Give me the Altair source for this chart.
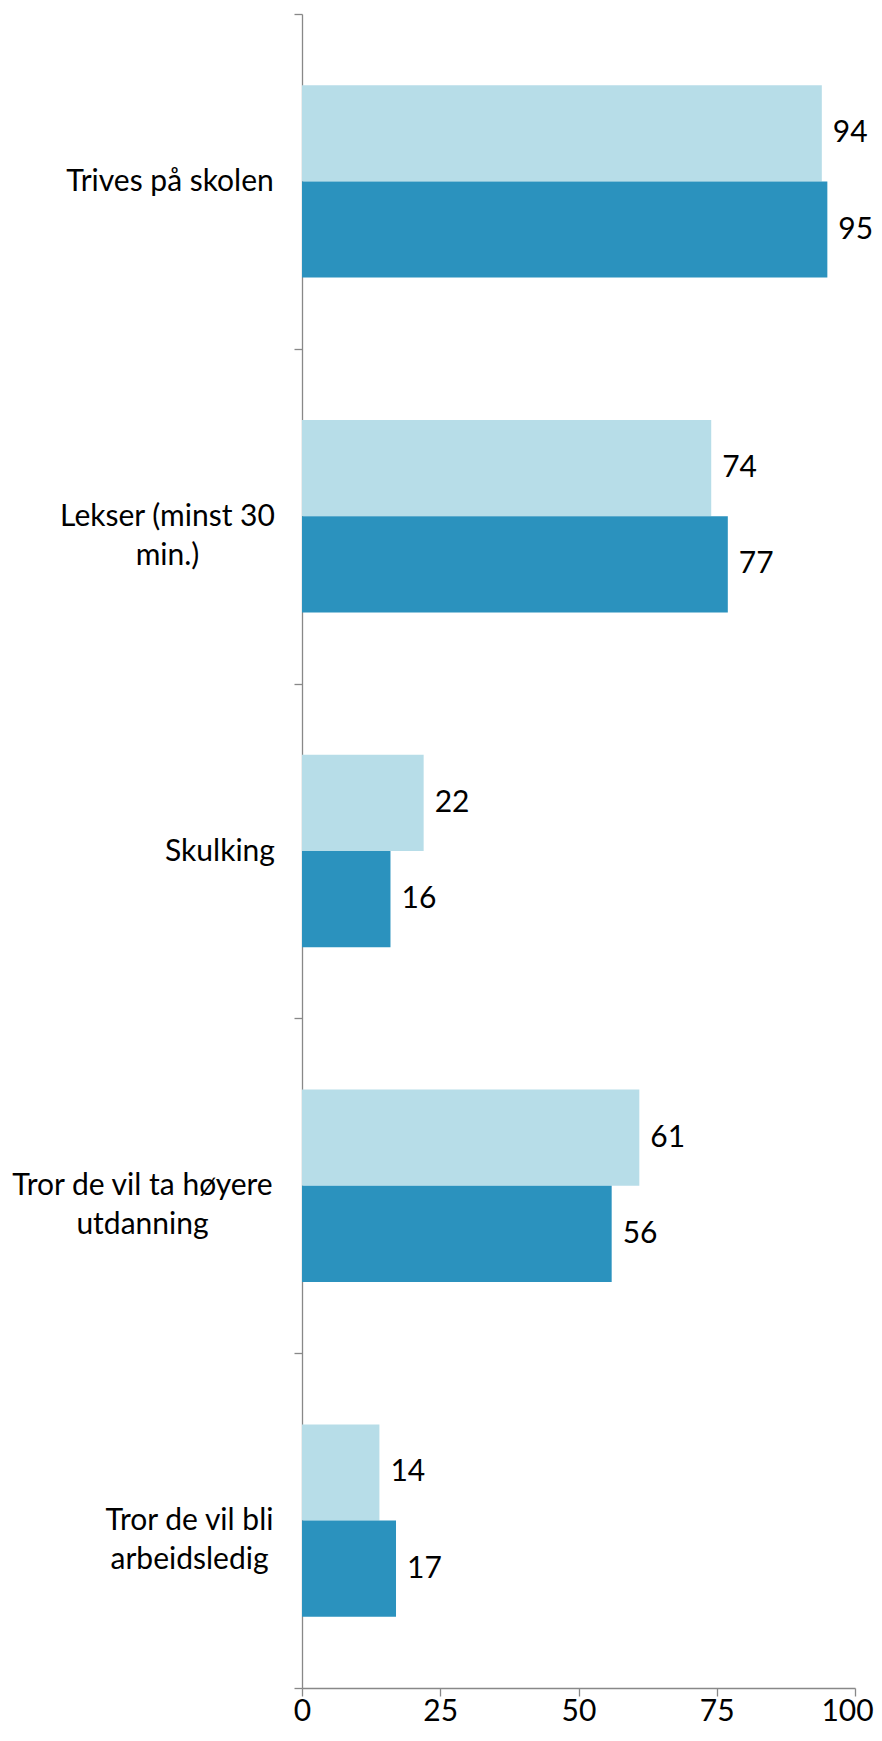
import altair as alt
import pandas as pd

# ---- data -------------------------------------------------------------
categories = [
    "Trives på skolen",
    "Lekser (minst 30 min.)",
    "Skulking",
    "Tror de vil ta høyere utdanning",
    "Tror de vil bli arbeidsledig",
]
label_lines = [
    ["Trives på skolen"],
    ["Lekser (minst 30", "min.)"],
    ["Skulking"],
    ["Tror de vil ta høyere", "utdanning"],
    ["Tror de vil bli", "arbeidsledig"],
]
series = ["Serie 1", "Serie 2"]
values_1 = [94, 74, 22, 61, 14]
values_2 = [95, 77, 16, 56, 17]
x_ticks = [0, 25, 50, 75, 100]

# ---- style ------------------------------------------------------------
colors = ["#B7DDE8", "#2B92BE"]
FONT = "Lato"
FS = 30
AXIS_COLOR = "#888888"
TICK = 8
# distance (px) from the axis line to the centre of each label block
label_centre = [132.5, 135, 82.5, 160, 113]

rows = []
for c, a, b in zip(categories, values_1, values_2):
    rows.append({"kategori": c, "serie": series[0], "verdi": a})
    rows.append({"kategori": c, "serie": series[1], "verdi": b})
df = pd.DataFrame(rows)


def js(s):
    return "'" + s.replace("'", "\\'") + "'"


label_expr = "datum.value"
for c, lines in reversed(list(zip(categories, label_lines))):
    arr = "[" + ", ".join(js(l) for l in lines) + "]"
    label_expr = f"datum.value == {js(c)} ? {arr} : ({label_expr})"

pad_expr = "0"
for c, d in reversed(list(zip(categories, label_centre))):
    pad_expr = f"datum.value == {js(c)} ? {d - TICK} : ({pad_expr})"

y_enc = alt.Y(
    "kategori:N",
    sort=categories,
    scale=alt.Scale(paddingInner=0, paddingOuter=0),
    axis=alt.Axis(
        title=None,
        tickBand="extent",
        labelExpr=label_expr,
        labelAlign="center",
        labelBaseline="middle",
        labelPadding=alt.ExprRef(expr=pad_expr),
        labelLineHeight=39,
        labelFont=FONT,
        labelFontSize=FS,
        labelColor="#000000",
        labelLimit=400,
        domainColor=AXIS_COLOR,
        tickColor=AXIS_COLOR,
        domainWidth=1.3,
        tickWidth=1.3,
        tickSize=TICK,
        grid=False,
    ),
)
y_off = alt.YOffset(
    "serie:N",
    sort=series,
    scale=alt.Scale(paddingInner=0, paddingOuter=0.74),
)
x_enc = alt.X(
    "verdi:Q",
    scale=alt.Scale(domain=[0, 100], nice=False),
    axis=alt.Axis(
        title=None,
        values=x_ticks,
        labelFont=FONT,
        labelFontSize=FS,
        labelColor="#000000",
        labelBaseline="top",
        labelPadding=0,
        labelFlush=False,
        labelOffset=alt.ExprRef(expr="datum.value == 100 ? -8 : 0"),
        domainColor=AXIS_COLOR,
        tickColor=AXIS_COLOR,
        domainWidth=1.3,
        tickWidth=1.3,
        tickSize=TICK,
        grid=False,
    ),
)

base = alt.Chart(df)

bars = base.mark_bar().encode(
    x=x_enc,
    y=y_enc,
    yOffset=y_off,
    color=alt.Color(
        "serie:N",
        scale=alt.Scale(domain=series, range=colors),
        legend=None,
    ),
)

labels = base.mark_text(
    align="left", baseline="middle", dx=11, font=FONT, fontSize=FS, color="#000000"
).encode(
    x=alt.X("verdi:Q"),
    y=alt.Y("kategori:N", sort=categories),
    yOffset=y_off,
    text=alt.Text("verdi:Q"),
)

chart = (
    alt.layer(bars, labels)
    .properties(
        width=553,
        height=1674,
        autosize=alt.AutoSizeParams(type="none"),
        padding={"left": 294, "top": 6, "right": 19, "bottom": 38},
    )
    .configure_view(stroke=None)
)

chart.save("out.html", embed_options={"renderer": "svg", "actions": False})
